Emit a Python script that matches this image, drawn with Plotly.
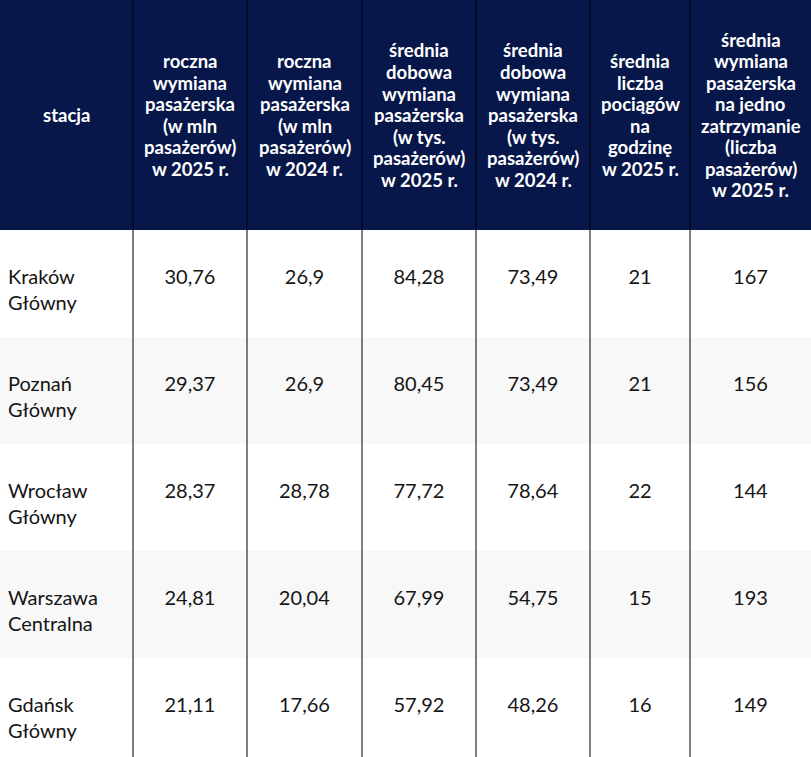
import plotly.graph_objects as go

# dane z tabeli
stacje = ["Kraków<br>Główny", "Poznań<br>Główny", "Wrocław<br>Główny",
          "Warszawa<br>Centralna", "Gdańsk<br>Główny"]
roczna_2025 = [30.76, 29.37, 28.37, 24.81, 21.11]
roczna_2024 = [26.9, 26.9, 28.78, 20.04, 17.66]
dobowa_2025 = [84.28, 80.45, 77.72, 67.99, 57.92]
dobowa_2024 = [73.49, 73.49, 78.64, 54.75, 48.26]
pociagi_h = [21, 21, 22, 15, 16]
na_zatrzymanie = [167, 156, 144, 193, 149]

# naglowki - kazda linia osobno
naglowki = [
    ["stacja"],
    ["roczna", "wymiana", "pasażerska", "(w mln", "pasażerów)", "w 2025 r."],
    ["roczna", "wymiana", "pasażerska", "(w mln", "pasażerów)", "w 2024 r."],
    ["średnia", "dobowa", "wymiana", "pasażerska", "(w tys.", "pasażerów)",
     "w 2025 r."],
    ["średnia", "dobowa", "wymiana", "pasażerska", "(w tys.", "pasażerów)",
     "w 2024 r."],
    ["średnia", "liczba", "pociągów", "na", "godzinę", "w 2025 r."],
    ["średnia", "wymiana", "pasażerska", "na jedno", "zatrzymanie", "(liczba",
     "pasażerów)", "w 2025 r."],
]

W, H = 811, 757
szer = [133, 114, 115, 114, 114, 100, 121]
HEAD_H = 230
ROW_H = 107
LINE_H = 21.5
NAVY = "#08174a"
ODSTEP = "\u00a0<br>"  # pusta linia nad tekstem w komorce


def pl(v):
    return str(v).replace(".", ",")


kolumny = [[ODSTEP + s for s in stacje]] + [
    [ODSTEP + pl(v) for v in col] for col in
    (roczna_2025, roczna_2024, dobowa_2025, dobowa_2024,
     pociagi_h, na_zatrzymanie)]

tlo = ["#ffffff" if i % 2 == 0 else "#f8f8f8" for i in range(len(stacje))]

fig = go.Figure(go.Table(
    columnwidth=szer,
    header=dict(values=[""] * len(naglowki), height=HEAD_H,
                fill_color=NAVY, line=dict(width=0)),
    cells=dict(values=kolumny, height=ROW_H,
               align=["left"] + ["center"] * 6,
               fill_color=[tlo] * len(kolumny),
               line=dict(width=0),
               font=dict(family="Lato", size=20, color="#151515")),
    domain=dict(x=[0, 1], y=[0, 1]),
))

# naglowki jako adnotacje, wysrodkowane w pionie
x0 = 0
for w, linie in zip(szer, naglowki):
    n = len(linie)
    for i, t in enumerate(linie):
        yc = HEAD_H / 2 + (i - (n - 1) / 2) * LINE_H
        fig.add_annotation(x=(x0 + w / 2) / W, y=1 - yc / H,
                           xref="paper", yref="paper", text="<b>" + t + "</b>",
                           showarrow=False, xanchor="center", yanchor="middle",
                           font=dict(family="Lato", size=18.5, color="white"))
    x0 += w

# pionowe linie
x0 = 0
for w in szer[:-1]:
    x0 += w
    fig.add_shape(type="line", xref="paper", yref="paper",
                  x0=x0 / W, x1=x0 / W, y0=0, y1=1,
                  line=dict(color="black", width=1))

fig.update_layout(width=W, height=H, margin=dict(l=0, r=0, t=0, b=0),
                  paper_bgcolor="white")
fig.write_html("out.html", config={"displayModeBar": False},
               post_script="document.body.style.margin='0';")
